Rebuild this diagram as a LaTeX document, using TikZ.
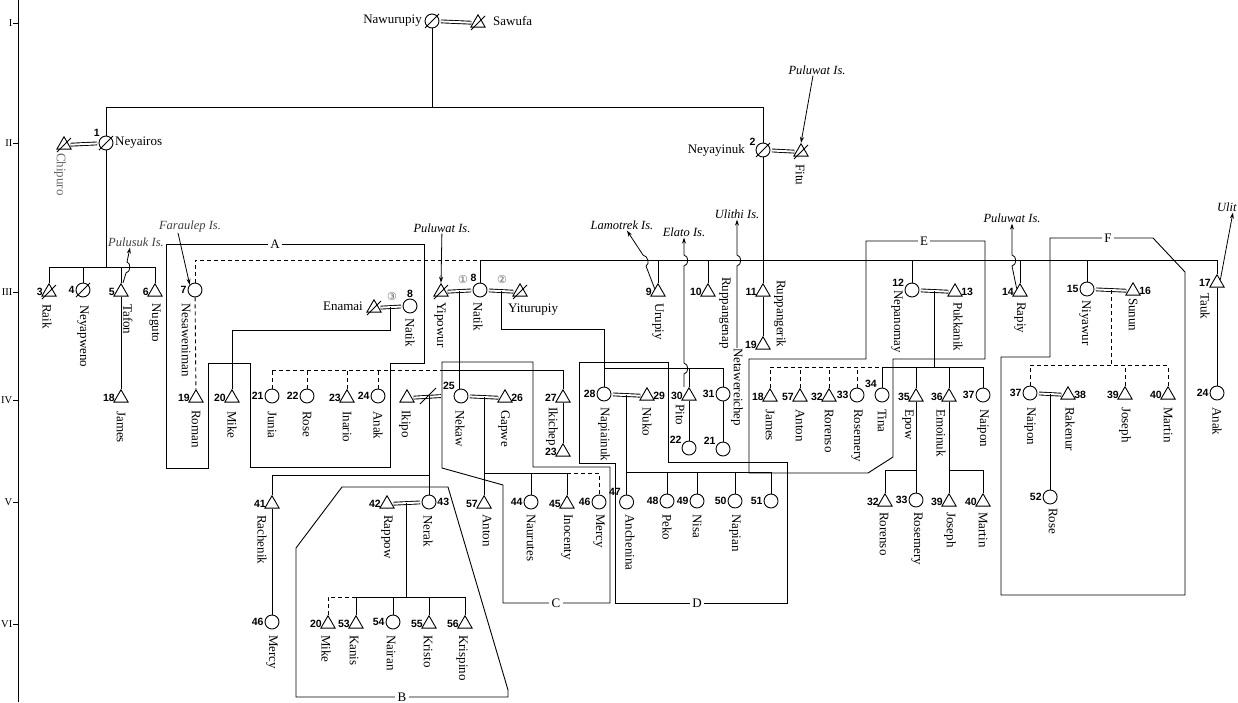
\documentclass[tikz,border=0pt]{standalone}
\usepackage{fontspec}
\setmainfont{Liberation Serif}
\setsansfont{Liberation Sans}
\newfontfamily\circfont{DejaVu Sans}
\usetikzlibrary{shapes.geometric,arrows.meta,calc}

\tikzset{
  male/.style={regular polygon,regular polygon sides=3,draw,line width=0.9pt,
    inner sep=0pt,minimum size=16.5pt,yshift=-2pt},
  female/.style={circle,draw,line width=0.9pt,inner sep=0pt,minimum size=14pt},
  num/.style={font=\sffamily\bfseries\fontsize{10.5}{10.5}\selectfont,inner sep=0.8pt},
  vname/.style={rotate=-90,anchor=west,inner sep=0pt,font=\fontsize{13}{13}\selectfont},
  hname/.style={inner sep=0pt,font=\fontsize{13}{13}\selectfont},
  genlab/.style={inner sep=0pt,anchor=east,font=\fontsize{10.5}{10.5}\selectfont},
  isle/.style={inner sep=1pt,font=\itshape\fontsize{12.5}{12.5}\selectfont},
  marknum/.style={inner sep=0pt,text=black!60,font=\circfont\fontsize{11}{11}\selectfont},
  boxlab/.style={fill=white,inner sep=2.5pt,font=\fontsize{13}{13}\selectfont},
  kin/.style={line width=0.9pt},
  adopt/.style={kin,dash pattern=on 4pt off 3pt},
  wed/.style={double,double distance=2pt,line width=0.9pt,shorten <=1.5pt,shorten >=1.5pt},
  outline/.style={line width=0.9pt},
  toisle/.style={line width=0.8pt,-{Stealth[length=6pt,width=4pt]}},
}
\newcommand{\deadmark}[1]{\draw[kin] ([shift={(-7pt,-7pt)}]#1.center) -- ([shift={(7pt,7pt)}]#1.center);}

\begin{document}
\begin{tikzpicture}[x=1pt,y=-1pt]
\useasboundingbox (0,0) rectangle (1238,702);

% generation axis
\draw[kin] (18,0) -- (18,702);
\foreach \y/\g in {23/I,143/II,292/III,400/IV,502/V,624/VI}{
  \draw[kin] (13,\y) -- (18,\y);
  \node[genlab] (gen\g) at (12.5,\y) {\g};
}

% groups
\draw[outline] (166,468) -- (166,244) -- (424,244) -- (424,363) -- (390,363) -- (390,467)
  -- (250,467) -- (250,363) -- (208,363) -- (208,468) -- cycle;
\draw[outline] (342,487) -- (448,487) -- (508,690) -- (508,697) -- (296,697) -- (296,548) -- cycle;
\coordinate (C-nw) at (442,362);
\draw[outline] (C-nw) -- (533,362) -- (533,467) -- (610,467) -- (610,603) -- (503,603)
  -- (503,485) -- (442,468) -- cycle;
\draw[outline] (579,362) -- (668,362) -- (668,462) -- (787,462) -- (787,603) -- (615,603)
  -- (615,463) -- (579,463) -- cycle;
\draw[outline] (749,359) -- (866,359) -- (866,241) -- (985,241) -- (985,359) -- (893,359)
  -- (893,457) -- (868,473) -- (749,473) -- cycle;
\draw[outline] (1001,357) -- (1050,357) -- (1050,238) -- (1153,238) -- (1185,272)
  -- (1185,595) -- (1001,595) -- cycle;
\node[boxlab] (boxA) at (275,244) {A};
\node[boxlab] (boxB) at (402,697) {B};
\node[boxlab] (boxC) at (556,603) {C};
\node[boxlab] (boxD) at (697,603) {D};
\node[boxlab] (boxE) at (924,241) {E};
\node[boxlab] (boxF) at (1108,238) {F};

% I
\node[female] (nawurupiy) at (432,21) {};
\node[male] (sawufa) at (478,21) {};
\node[hname,anchor=east] (t-nawurupiy) at (422,21) {Nawurupiy};
\node[hname,anchor=west] (t-sawufa) at (493,21) {Sawufa};

% II
\node[male] (chipuro) at (64,143) {};
\node[female,label={[num]135:1}] (neyairos) at (106,143) {};
\node[female,label={[num]150:2}] (neyayinuk) at (763,150) {};
\node[male] (fitu) at (801,150) {};
\node[hname,anchor=west] (t-neyairos) at (115,143) {Neyairos};
\node[hname,anchor=east] (t-neyayinuk) at (745,150) {Neyayinuk};
\node[vname,text=black!60] (t-chipuro) at (60,153) {Chipuro};

% III
\node[male,label={[num]left:3}] (raik) at (49,290) {};
\node[female,label={[num]left:4}] (neyapweno) at (83,290) {};
\node[male,label={[num]left:5}] (tafon) at (121,290) {};
\node[male,label={[num]left:6}] (nuguto) at (155,290) {};
\node[female,label={[num]left:7}] (nesaweniman) at (195,290) {};
\node[male] (enamai) at (374,306) {};
\node[female,label={[num]above:8}] (natikA) at (410,306) {};
\node[male] (yipowur) at (441,290) {};
\node[female,label={[num]110:8}] (natik) at (480,290) {};
\node[male] (yiturupiy) at (520,290) {};
\node[male,label={[num]left:9}] (urupiy) at (658,290) {};
\node[male,label={[num]left:10}] (ruppangenap) at (708,290) {};
\node[male,label={[num]left:11}] (ruppangerik) at (763,290) {};
\node[male,label={[num]left:19}] (roman2) at (763,343) {};
\node[female,label={[num]160:12}] (nepanomay) at (912,290) {};
\node[male,label={[num]right:13}] (pukkanik) at (955,290) {};
\node[male,label={[num]left:14}] (rapiy) at (1020,290) {};
\node[female,label={[num]left:15}] (niyawur) at (1087,289) {};
\node[male,label={[num]right:16}] (sunun) at (1133,289) {};
\node[male,label={[num]left:17}] (tauk) at (1217,281) {};
\node[hname,anchor=east] (t-enamai) at (363,306) {Enamai};
\node[hname,anchor=west] (t-yiturupiy) at (508,310) {Yiturupiy};

% IV
\node[male,label={[num]left:18}] (james1) at (121,396) {};
\node[male,label={[num]left:19}] (roman) at (196,396) {};
\node[male,label={[num]left:20}] (mike1) at (232,396) {};
\node[female,label={[num]left:21}] (junia) at (272,396) {};
\node[female,label={[num]left:22}] (rose1) at (307,396) {};
\node[male,label={[num]left:23}] (inario) at (347,396) {};
\node[female,label={[num]left:24}] (anak1) at (378,396) {};
\node[male] (ikipo) at (407,396) {};
\node[female,label={[num]135:25}] (nekaw) at (461,396) {};
\node[male,label={[num]right:26}] (gapwe) at (505,396) {};
\node[male,label={[num]left:27}] (ikichep) at (563,396) {};
\node[male,label={[num]left:23}] (ikichep23) at (563,450) {};
\node[female,label={[num]left:28}] (napiainuk) at (604,394) {};
\node[male,label={[num]right:29}] (nuko) at (647,394) {};
\node[male,label={[num]left:30}] (pito) at (689,394) {};
\node[female,label={[num]150:22}] (pito22) at (689,448) {};
\node[female,label={[num]left:31}] (netawereichep) at (723,394) {};
\node[female,label={[num]150:21}] (neta21) at (723,449) {};
\node[male,label={[num]left:18}] (james2) at (770,395) {};
\node[male,label={[num]left:57}] (anton1) at (800,395) {};
\node[male,label={[num]left:32}] (rorenso1) at (829,395) {};
\node[female,label={[num]left:33}] (rosemery1) at (857,395) {};
\node[female,label={[num]125:34}] (tina) at (882,395) {};
\node[male,label={[num]left:35}] (epow) at (916,395) {};
\node[male,label={[num]left:36}] (emoinuk) at (949,395) {};
\node[female,label={[num]left:37}] (naipon1) at (983,395) {};
\node[female,label={[num]left:37}] (naipon2) at (1030,393) {};
\node[male,label={[num]right:38}] (rakenur) at (1068,393) {};
\node[male,label={[num]left:39}] (joseph2) at (1125,393) {};
\node[male,label={[num]left:40}] (martin2) at (1168,393) {};
\node[female,label={[num]left:24}] (anak2) at (1217,393) {};

% V
\coordinate (m-ikipo) at (429,396);
\coordinate (m-nekaw) at ($(nekaw.east)!0.5!(gapwe.west)$);
\coordinate (m-napiainuk) at ($(napiainuk.east)!0.5!(nuko.west)$);
\coordinate (m-naipon) at ($(naipon2.east)!0.5!(rakenur.west)$);
\node[male,label={[num]left:41}] (rachenik) at (272,502) {};
\node[male,label={[num]left:42}] (rappow) at (387,502) {};
\node[female,label={[num]right:43}] (nerak) at (m-ikipo |- 0,502) {};
\node[male,label={[num]left:57}] (anton2) at (m-nekaw |- 0,502) {};
\node[female,label={[num]left:44}] (naurutes) at (531,502) {};
\node[male,label={[num]left:45}] (inocenty) at (567,502) {};
\node[female,label={[num]left:46}] (mercy2) at (599,502) {};
\node[female,label={[num]130:47}] (anchenina) at (m-napiainuk |- 0,502) {};
\node[female,label={[num]left:48}] (peko) at (667,501) {};
\node[female,label={[num]left:49}] (nisa) at (697,501) {};
\node[female,label={[num]left:50}] (napian) at (735,501) {};
\node[female,label={[num]left:51}] (n51) at (771,501) {};
\node[male,label={[num]left:32}] (rorenso2) at (885,500) {};
\node[female,label={[num]left:33}] (rosemery2) at (epow |- 0,500) {};
\node[male,label={[num]left:39}] (joseph1) at (emoinuk |- 0,500) {};
\node[male,label={[num]left:40}] (martin1) at (983,500) {};
\node[female,label={[num]left:52}] (rose2) at (m-naipon |- 0,497) {};

% VI
\node[female,label={[num]left:46}] (mercy1) at (272,622) {};
\node[male,label={[num]left:20}] (mike2) at (328,622) {};
\node[male,label={[num]left:53}] (kanis) at (356,622) {};
\node[female,label={[num]left:54}] (nairan) at (393,622) {};
\node[male,label={[num]left:55}] (kristo) at (429,622) {};
\node[male,label={[num]left:56}] (krispino) at (465,622) {};

% names
\foreach \x/\y/\t in {47/304/Raik,83/305/Neyapweno,128/304/Tafon,155/303/Nuguto,
    186/303/Nesaweniman,196/410/Roman,232/411/Mike,121/411/James,410/318/Natik,
    440/302/Yipowur,478/302/Natik,272/411/Junia,307/411/Rose,347/411/Inario,
    378/411/Anak,405/410/Ikipo,460/410/Nekaw,504/410/Gapwe,552/407/Ikichep,
    604/407/Napiainuk,647/407/Nuko,680/404/Pito,658/303/Urupiy,725/277/Ruppangenap,
    780/280/Ruppangerik,897/290/Nepanomay,958/302/Pukkanik,770/409/James,
    800/409/Anton,829/409/Rorenso,857/409/Rosemery,882/409/Tina,908/409/Epow,
    941/409/Emoinuk,983/409/Naipon,1020/302/Rapiy,1085/300/Niyawur,1133/298/Sunun,
    1030/407/Naipon,1070/407/Rakenur,1125/407/Joseph,1168/407/Martin,1205/293/Tauk,
    1217/407/Anak,262/515/Rachenik,272/635/Mercy,387/515/Rappow,428/515/Nerak,
    487/514/Anton,531/514/Naurutes,567/514/Inocenty,599/514/Mercy,630/514/Anchenina,
    667/514/Peko,697/514/Nisa,735/514/Napian,884/512/Rorenso,917/512/Rosemery,
    950/512/Joseph,983/512/Martin,1053/508/Rose,326/635/Mike,354/635/Kanis,
    391/635/Nairan,428/635/Kristo,462/635/Krispino,800/164/Fitu}
  \node[vname] (n-\x-\y) at (\x,\y) {\t};
\node[vname] (t-neta) at (737,348) {Netawereichep};

% deceased
\foreach \p in {nawurupiy,sawufa,chipuro,neyairos,neyayinuk,fitu,raik,neyapweno,
    enamai,yipowur,yiturupiy}
  {\deadmark{\p}}

% marriages
\draw[wed] (nawurupiy) -- (sawufa);
\draw[wed] (chipuro) -- (neyairos);
\draw[wed] (neyayinuk) -- (fitu);
\draw[wed] (enamai) -- (natikA);
\draw[wed] (yipowur) -- (natik);
\draw[wed] (natik) -- (yiturupiy);
\draw[wed] (nepanomay) -- (pukkanik);
\draw[wed] (niyawur) -- (sunun);
\draw[wed] (ikipo) -- ([xshift=-11pt]nekaw.west);
\draw[wed] (nekaw) -- (gapwe);
\draw[wed] (napiainuk) -- (nuko);
\draw[wed] (naipon2) -- (rakenur);
\draw[wed] (rappow) -- (nerak);
\draw[kin] ([shift={(-9pt,-8pt)}]m-ikipo) -- ([shift={(7pt,8pt)}]m-ikipo);
\node[marknum] (wed1) at (463,279) {①};
\node[marknum] (wed2) at (502,279) {②};
\node[marknum] (wed3) at (392,296) {③};
\coordinate (m-enamai) at ($(enamai.east)!0.5!(natikA.west)$);
\coordinate (m-yipowur) at ($(yipowur.east)!0.5!(natik.west)$);
\coordinate (m-natik) at ($(natik.east)!0.5!(yiturupiy.west)$);
\coordinate (m-nepanomay) at ($(nepanomay.east)!0.5!(pukkanik.west)$);
\coordinate (m-niyawur) at ($(niyawur.east)!0.5!(sunun.west)$);
\coordinate (m-rappow) at ($(rappow.east)!0.5!(nerak.west)$);

% descent
\draw[kin] (nawurupiy) -- (nawurupiy |- 0,107);
\draw[kin] (neyairos) |- (neyayinuk |- 0,107) -- (neyayinuk);
\draw[kin] (neyairos) -- (neyairos |- 0,267);
\draw[kin] (raik |- 0,267) -- (nuguto |- 0,267);
\foreach \p in {raik,neyapweno,tafon,nuguto} \draw[kin] (\p) -- (\p |- 0,267);
\draw[kin] (tafon) -- (james1);

\draw[adopt] (nesaweniman) -- (nesaweniman |- 0,260) -- (natik |- 0,260);
\draw[adopt] (nesaweniman) -- (roman);
\draw[kin] (natik) |- (tauk |- 0,260) -- (tauk);
\foreach \p in {urupiy,ruppangenap,nepanomay,rapiy,niyawur} \draw[kin] (\p) -- (\p |- 0,260);
\draw[kin] (neyayinuk) -- (ruppangerik);
\draw[kin] (ruppangerik) -- (roman2);

\draw[kin] (m-enamai) |- (mike1 |- 0,330) -- (mike1);
\draw[adopt] (junia |- 0,370) -- (C-nw |- 0,370);
\draw[kin] (C-nw |- 0,370) -| (ikichep);
\foreach \p in {junia,rose1,inario,anak1} \draw[adopt] (\p) -- (\p |- 0,370);
\draw[kin] (ikichep) -- (ikichep23);

\draw[kin] (m-yipowur) -- (m-yipowur |- nekaw.north);
\draw[kin] (m-natik) |- (napiainuk |- 0,329) -- (napiainuk);
\draw[kin] (napiainuk |- 0,368) -- (netawereichep |- 0,368);
\foreach \p in {pito,netawereichep} \draw[kin] (\p) -- (\p |- 0,368);
\draw[kin] (pito) -- (pito22);
\draw[kin] (netawereichep) -- (neta21);

\draw[kin] (m-ikipo) -- (nerak);
\draw[kin] (rachenik) |- (nerak |- 0,475);
\draw[kin] (rachenik) -- (mercy1);
\draw[kin] (m-nekaw) -- (anton2);
\draw[kin] (anton2 |- 0,473) -- (inocenty |- 0,473);
\draw[adopt] (inocenty |- 0,473) -| (mercy2);
\foreach \p in {naurutes,inocenty} \draw[kin] (\p) -- (\p |- 0,473);
\draw[kin] (m-napiainuk) -- (anchenina);
\draw[kin] (anchenina |- 0,472) -- (n51 |- 0,472);
\foreach \p in {peko,nisa,napian,n51} \draw[kin] (\p) -- (\p |- 0,472);

\draw[kin] (m-nepanomay) -- (m-nepanomay |- 0,367);
\draw[adopt] (james2 |- 0,367) -- (tina |- 0,367);
\draw[kin] (tina |- 0,367) -- (naipon1 |- 0,367);
\foreach \p in {james2,anton1,rorenso1,rosemery1} \draw[adopt] (\p) -- (\p |- 0,367);
\foreach \p in {tina,epow,emoinuk,naipon1} \draw[kin] (\p) -- (\p |- 0,367);
\draw[kin] (epow) |- (rorenso2 |- 0,470) -- (rorenso2);
\draw[kin] (epow |- 0,470) -- (rosemery2);
\draw[kin] (emoinuk) -- (joseph1);
\draw[kin] (emoinuk |- 0,470) -| (martin1);

\draw[adopt] (m-niyawur) -- (m-niyawur |- 0,365);
\draw[adopt] (naipon2 |- 0,365) -- (martin2 |- 0,365);
\foreach \p in {naipon2,joseph2,martin2} \draw[adopt] (\p) -- (\p |- 0,365);
\draw[kin] (m-naipon) -- (rose2);
\draw[kin] (tauk) -- (anak2);

\draw[kin] (m-rappow) -- (m-rappow |- 0,597);
\draw[kin] (kanis |- 0,597) -- (krispino |- 0,597);
\foreach \p in {kanis,nairan,kristo,krispino} \draw[kin] (\p) -- (\p |- 0,597);
\draw[adopt] (kanis |- 0,597) -| (mike2);

% islands
\node[isle] (puluwat1) at (817,70) {Puluwat Is.};
\draw[toisle] ([xshift=-4pt]puluwat1.south) -- (fitu.north);
\node[isle,text=black!75] (pulusuk) at (136,242) {Pulusuk Is.};
\draw[toisle] ([xshift=2pt]tafon.north) -- (126,273) .. controls (131,272) and (131,263) .. (127,262)
  -- ([xshift=-6pt]pulusuk.south);
\node[isle,text=black!75] (faraulep) at (190,226) {Faraulep Is.};
\draw[toisle] ([xshift=-12pt]faraulep.south) -- (nesaweniman.north west);
\node[isle] (puluwat2) at (442,228) {Puluwat Is.};
\draw[toisle] (puluwat2) -- (yipowur.north);
\node[isle] (lamotrek) at (622,225) {Lamotrek Is.};
\draw[toisle] (urupiy.north west) -- (646,266) .. controls (650,264) and (648,256) .. (643,255)
  -- ([xshift=5pt]lamotrek.south);
\node[isle] (elato) at (684,232) {Elato Is.};
\draw[toisle] ([xshift=-5pt]pito.north) -- (684,374) .. controls (689,373) and (689,364) .. (684,363)
  -- (684,266) .. controls (689,265) and (689,256) .. (684,255) -- (elato.south);
\node[isle] (ulithi) at (737,214) {Ulithi Is.};
\draw[toisle] (t-neta.west) -- (737,266) .. controls (742,265) and (742,256) .. (737,255)
  -- (ulithi.south);
\node[isle] (puluwat3) at (1012,218) {Puluwat Is.};
\draw[toisle] (rapiy.north west) -- (1012,266) .. controls (1017,265) and (1017,256) .. (1012,255)
  -- (puluwat3.south);
\node[isle,anchor=west] (ulit) at (1216,207) {Ulit};
\draw[toisle] (tauk.north east) -- ([xshift=6pt]ulit.south);
\end{tikzpicture}
\end{document}
